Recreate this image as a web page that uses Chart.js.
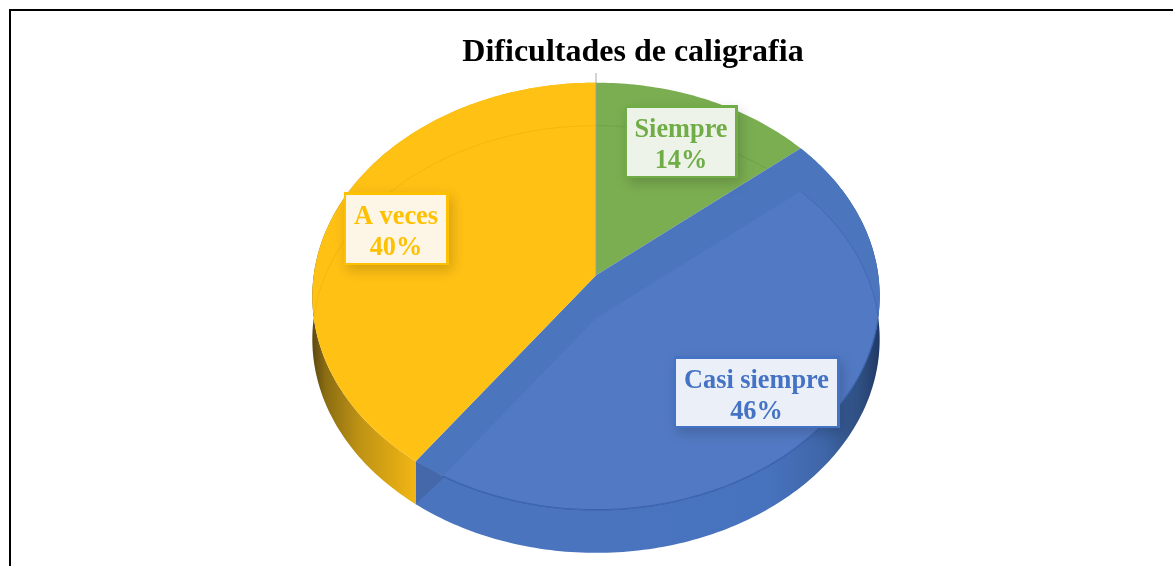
<!DOCTYPE html>
<html><head><meta charset="utf-8">
<style>html,body{margin:0;padding:0;background:#fff;overflow:hidden}canvas{display:block}</style>
<script src="https://cdn.jsdelivr.net/npm/chart.js@4"></script>
</head><body><canvas id="c" width="1173" height="566"></canvas>
<script>
const categories = ['Siempre', 'Casi siempre', 'A veces'];
const values = [14, 46, 40];
const chartTitle = 'Dificultades de caligrafia';

const faceColors = ['#7BAE51', '#4B76BE', '#FFC114'];
const textColors = ['#70AD47', '#4472C4', '#FFC000'];
const boxFills = ['#EEF3EA', '#EBEFF8', '#FDF5E5'];
const boxRects = [[627, 108, 108, 68], [676, 359, 161, 67], [346, 195, 100, 68]];

// perspective of the tilted disc
const K = 0.0986, SX = 1.392, SY = 1.043, DEPTH = 43;

function projector(el) {
  const B = el.outerRadius * SX, A = el.outerRadius * SY;
  return (a, s = 0) => {
    const u = Math.cos(a), v = -Math.sin(a), w = 1 + K * v;
    return [el.x + B * u / w, el.y - A * v / w + s];
  };
}
function arcPts(p, a0, a1, s = 0) {
  const n = Math.max(8, Math.ceil(Math.abs(a1 - a0) * 60)), out = [];
  for (let i = 0; i <= n; i++) out.push(p(a0 + (a1 - a0) * i / n, s));
  return out;
}
function tracePoly(ctx, pts) {
  ctx.beginPath();
  pts.forEach((q, i) => i ? ctx.lineTo(q[0], q[1]) : ctx.moveTo(q[0], q[1]));
  ctx.closePath();
}
function traceLine(ctx, pts) {
  ctx.beginPath();
  pts.forEach((q, i) => i ? ctx.lineTo(q[0], q[1]) : ctx.moveTo(q[0], q[1]));
}

class PerspArc extends Chart.ArcElement {
  static id = 'perspArc';
  draw(ctx) {
    const i = this.$context.dataIndex, p = projector(this);
    const a0 = this.startAngle, a1 = this.endAngle;
    const apex = [this.x, this.y];
    const apexS = [this.x, this.y + DEPTH];
    const top = arcPts(p, a0, a1);
    const low = arcPts(p, a0, a1, DEPTH);
    const slice = [apex, ...top];
    const sliceS = [apexS, ...low];
    ctx.save();
    if (i === 1) {
      // wall
      const g = ctx.createLinearGradient(this.x, 0, this.x + 285, 0);
      g.addColorStop(0, '#4A74BE'); g.addColorStop(0.6, '#4772BE');
      g.addColorStop(0.8, '#3F66A8'); g.addColorStop(0.93, '#2E4E80'); g.addColorStop(1, '#1F3864');
      tracePoly(ctx, [...top, ...low.slice().reverse()]);
      ctx.fillStyle = g; ctx.fill();
      // cut band + rim
      tracePoly(ctx, slice);
      ctx.fillStyle = faceColors[i]; ctx.fill();
      // corner where the cut meets the wall
      const cs = low[low.length - 1], c0 = top[top.length - 1];
      const dx = cs[0] - apexS[0], dy = cs[1] - apexS[1];
      let meet = c0;
      for (let k = top.length - 1; k >= 0; k--) {
        if (dx * (top[k][1] - apexS[1]) - dy * (top[k][0] - apexS[0]) < 0) { meet = top[k]; break; }
      }
      tracePoly(ctx, [c0, cs, meet]);
      ctx.fillStyle = '#4568AB'; ctx.fill();
      // upper plate
      ctx.save();
      tracePoly(ctx, slice); ctx.clip();
      tracePoly(ctx, sliceS); ctx.fillStyle = '#527AC4'; ctx.fill();
      ctx.lineWidth = 1; ctx.strokeStyle = 'rgba(50,90,160,0.4)';
      traceLine(ctx, low); ctx.stroke();
      ctx.restore();
      ctx.save();
      tracePoly(ctx, sliceS); ctx.clip();
      ctx.lineWidth = 1.5; ctx.strokeStyle = 'rgba(50,90,165,0.7)';
      traceLine(ctx, top); ctx.stroke();
      ctx.restore();
    }
    if (i === 2) {
      const x0 = this.x - 283, x1 = top[0][0];
      const g = ctx.createLinearGradient(x0, 0, x1, 0);
      g.addColorStop(0, '#5F4A10'); g.addColorStop(0.12, '#8A6C12');
      g.addColorStop(0.45, '#BE9214'); g.addColorStop(1, '#F2B614');
      tracePoly(ctx, [...top, ...low.slice().reverse()]);
      ctx.fillStyle = g; ctx.fill();
    }
    if (i !== 1) {
      tracePoly(ctx, slice);
      ctx.fillStyle = faceColors[i]; ctx.fill();
      ctx.save();
      tracePoly(ctx, slice); ctx.clip();
      ctx.lineWidth = 1;
      ctx.strokeStyle = i === 0 ? 'rgba(90,140,60,0.3)' : 'rgba(205,150,0,0.22)';
      traceLine(ctx, low); ctx.stroke();
      ctx.restore();
    }
    ctx.restore();
  }
}
class PerspPie extends Chart.PieController {
  static id = 'perspPie';
  static defaults = { dataElementType: 'perspArc' };
}
Chart.register(PerspArc, PerspPie);

const framePlugin = {
  id: 'frame',
  afterLayout(chart) { if (chart.titleBlock) chart.titleBlock.left = 93; },
  beforeDraw(chart) {
    const c = chart.ctx;
    c.save(); c.fillStyle = '#000';
    c.fillRect(9, 9, chart.width - 9, 2);
    c.fillRect(9, 9, 2, chart.height - 9);
    c.restore();
  }
};
const labelPlugin = {
  id: 'sliceLabels',
  afterDatasetsDraw(chart) {
    const c = chart.ctx, el = chart.getDatasetMeta(0).data[0];
    c.save();
    // leader line above the disc
    c.strokeStyle = 'rgba(150,160,170,0.45)'; c.lineWidth = 2;
    c.beginPath(); c.moveTo(el.x, 73); c.lineTo(el.x, el.y); c.stroke();
    const total = values.reduce((a, b) => a + b, 0);
    categories.forEach((name, i) => {
      const [x, y, w, h] = boxRects[i];
      c.save();
      c.shadowColor = 'rgba(0,0,0,0.18)'; c.shadowBlur = 12; c.shadowOffsetX = 3; c.shadowOffsetY = 5;
      c.fillStyle = textColors[i]; c.fillRect(x - 2, y - 3, w + 5, h + 5);
      c.restore();
      c.fillStyle = boxFills[i]; c.fillRect(x, y, w, h);
      c.fillStyle = textColors[i];
      c.font = 'bold 26.3px "Liberation Serif"';
      c.textAlign = 'center'; c.textBaseline = 'alphabetic';
      c.fillText(name, x + w / 2, y + 29);
      c.fillText(Math.round(values[i] / total * 100) + '%', x + w / 2, y + 60);
    });
    c.restore();
  }
};

new Chart(document.getElementById('c'), {
  type: 'perspPie',
  data: { labels: categories, datasets: [{ data: values, backgroundColor: faceColors, borderWidth: 0 }] },
  plugins: [framePlugin, labelPlugin],
  options: {
    responsive: false, animation: false,
    layout: { padding: { left: 19, right: 0, top: 0, bottom: 88 } },
    plugins: {
      legend: { display: false }, tooltip: { enabled: false },
      title: {
        display: true, text: chartTitle, color: '#000',
        font: { family: '"Liberation Serif"', size: 32, weight: 'bold', lineHeight: 1.2 },
        padding: { top: 34, bottom: 0 }
      }
    }
  }
});
</script></body></html>
